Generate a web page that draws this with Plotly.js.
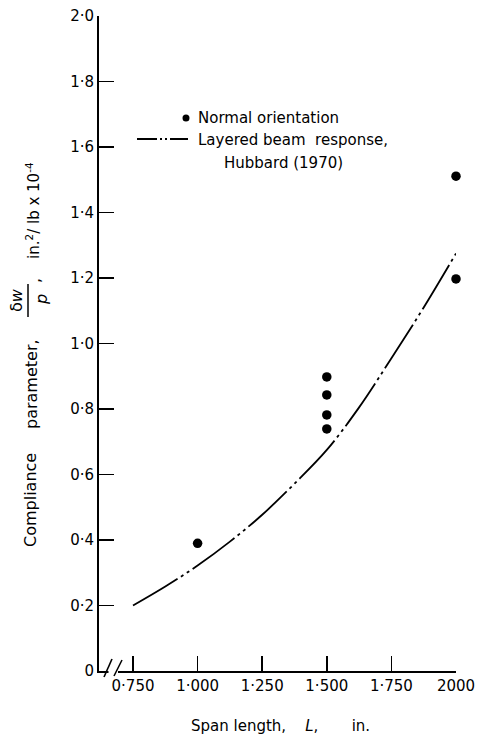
<!DOCTYPE html>
<html>
<head>
<meta charset="utf-8">
<script src="https://cdn.plot.ly/plotly-3.0.1.min.js"></script>
<style>html,body{margin:0;padding:0;background:#fff;}#chart{width:482px;height:735px;}</style>
</head>
<body>
<div id="chart"></div>
<script>
// ---- data ----
const pointSpan = [1.0, 1.5, 1.5, 1.5, 1.5, 2.0, 2.0];
const pointCompliance = [0.39, 0.898, 0.843, 0.782, 0.739, 1.511, 1.197];
const curveSpan = [0.75, 0.875, 1.0, 1.125, 1.25, 1.375, 1.5, 1.625, 1.75, 1.875, 2.0];
const curveCompliance = [0.20, 0.258, 0.322, 0.395, 0.477, 0.572, 0.675, 0.805, 0.955, 1.11, 1.275];
const xTickVals = [0.75, 1.0, 1.25, 1.5, 1.75, 2.0];
const xTickText = ["0\u00b7750", "1\u00b7000", "1\u00b7250", "1\u00b7500", "1\u00b7750", "2000"];
const yTickVals = [0, 0.2, 0.4, 0.6, 0.8, 1.0, 1.2, 1.4, 1.6, 1.8, 2.0];
const yTickText = ["0", "0\u00b72", "0\u00b74", "0\u00b76", "0\u00b78", "1\u00b70", "1\u00b72", "1\u00b74", "1\u00b76", "1\u00b78", "2\u00b70"];
const seriesNames = ["Normal orientation", "Layered beam response, Hubbard (1970)"];

// ---- layout helpers (pixel -> paper) ----
const W = 482, H = 735;
const M = {l: 99, r: 26, t: 16, b: 64};
const PW = W - M.l - M.r, PH = H - M.t - M.b;
const px = v => (v - M.l) / PW;
const py = v => (H - M.b - v) / PH;
const FONT = "DejaVu Sans";
const NB = n => "\u00a0".repeat(n);

const traces = [
  {
    x: curveSpan, y: curveCompliance, name: seriesNames[1], type: "scatter", mode: "lines",
    line: {color: "#000", width: 1.8, shape: "spline", dash: "52px,4px,3px,4px,3px,4px"},
    showlegend: false, hoverinfo: "skip"
  },
  {
    x: pointSpan, y: pointCompliance, name: seriesNames[0], type: "scatter", mode: "markers",
    marker: {color: "#000", size: 9.5}, cliponaxis: false, showlegend: false
  }
];

const shapes = [
  // axis break
  {type: "rect", xref: "paper", yref: "paper", x0: px(108.5), x1: px(118), y0: py(676), y1: py(666), fillcolor: "#fff", line: {width: 0}, layer: "above"},
  {type: "line", xref: "paper", yref: "paper", x0: px(104), y0: py(677), x1: px(112), y1: py(659), line: {color: "#000", width: 1.6}, layer: "above"},
  {type: "line", xref: "paper", yref: "paper", x0: px(114), y0: py(676), x1: px(122), y1: py(660), line: {color: "#000", width: 1.6}, layer: "above"},
  // legend symbols
  {type: "line", xref: "paper", yref: "paper", x0: px(137), y0: py(139), x1: px(188), y1: py(139), line: {color: "#000", width: 1.8, dash: "20px,3px,2px,3px,2px,3px"}},
  {type: "circle", xref: "paper", yref: "paper", xsizemode: "pixel", ysizemode: "pixel", xanchor: px(186), yanchor: py(118), x0: -3.5, x1: 3.5, y0: -3.5, y1: 3.5, fillcolor: "#000", line: {width: 0}},
  // fraction bar of the y title
  {type: "line", xref: "paper", yref: "paper", x0: px(28), y0: py(284), x1: px(28), y1: py(317), line: {color: "#000", width: 1.5}}
];

const tf = {family: FONT, size: 15, color: "#000"};
const tf16 = {family: FONT, size: 16, color: "#000"};
function ann(text, x, y, opts) {
  return Object.assign({text: text, x: px(x), y: py(y), xref: "paper", yref: "paper",
    xanchor: "center", yanchor: "middle", showarrow: false, font: tf}, opts || {});
}
const annotations = [
  ann(seriesNames[0], 196, 118, {xanchor: "left"}),
  ann("Layered" + NB(1) + "beam" + NB(2) + "response,", 196, 140, {xanchor: "left"}),
  ann("Hubbard" + NB(1) + "(1970)", 283, 163),
  // y title pieces
  ann("Compliance", 31, 500, {textangle: -90, font: tf16}),
  ann("parameter,", 31, 384, {textangle: -90, font: tf16}),
  ann("\u03b4<i>w</i>", 16, 300, {textangle: -90, font: tf16}),
  ann("<i>p</i>", 41, 300, {textangle: -90, font: tf16}),
  ann(",", 34, 281, {textangle: -90, font: tf16}),
  ann("in.<sup>2</sup>/" + NB(1) + "lb x 10<sup>-4</sup>", 33, 211, {textangle: -90}),
  // x title
  ann("Span length," + NB(4) + "<i>L</i>," + NB(7) + "in.", 280, 726)
];

const layout = {
  width: W, height: H,
  margin: M,
  paper_bgcolor: "#fff", plot_bgcolor: "#fff",
  showlegend: false,
  font: {family: FONT, color: "#000"},
  xaxis: {
    range: [0.6184, 2.0], tickmode: "array", tickvals: xTickVals, ticktext: xTickText,
    ticks: "inside", ticklen: 15, tickwidth: 1.5, tickcolor: "#000",
    showline: true, linecolor: "#000", linewidth: 2, showgrid: false, zeroline: false,
    tickfont: {family: FONT, size: 15, color: "#000"}, fixedrange: true
  },
  yaxis: {
    range: [0, 2.0], tickmode: "array", tickvals: yTickVals, ticktext: yTickText,
    ticks: "inside", ticklen: 15, tickwidth: 1.5, tickcolor: "#000",
    showline: true, linecolor: "#000", linewidth: 2, showgrid: false, zeroline: false,
    tickfont: {family: FONT, size: 15, color: "#000"}, fixedrange: true
  },
  shapes: shapes,
  annotations: annotations
};

Plotly.newPlot("chart", traces, layout, {displayModeBar: false, staticPlot: true});
</script>
</body>
</html>
